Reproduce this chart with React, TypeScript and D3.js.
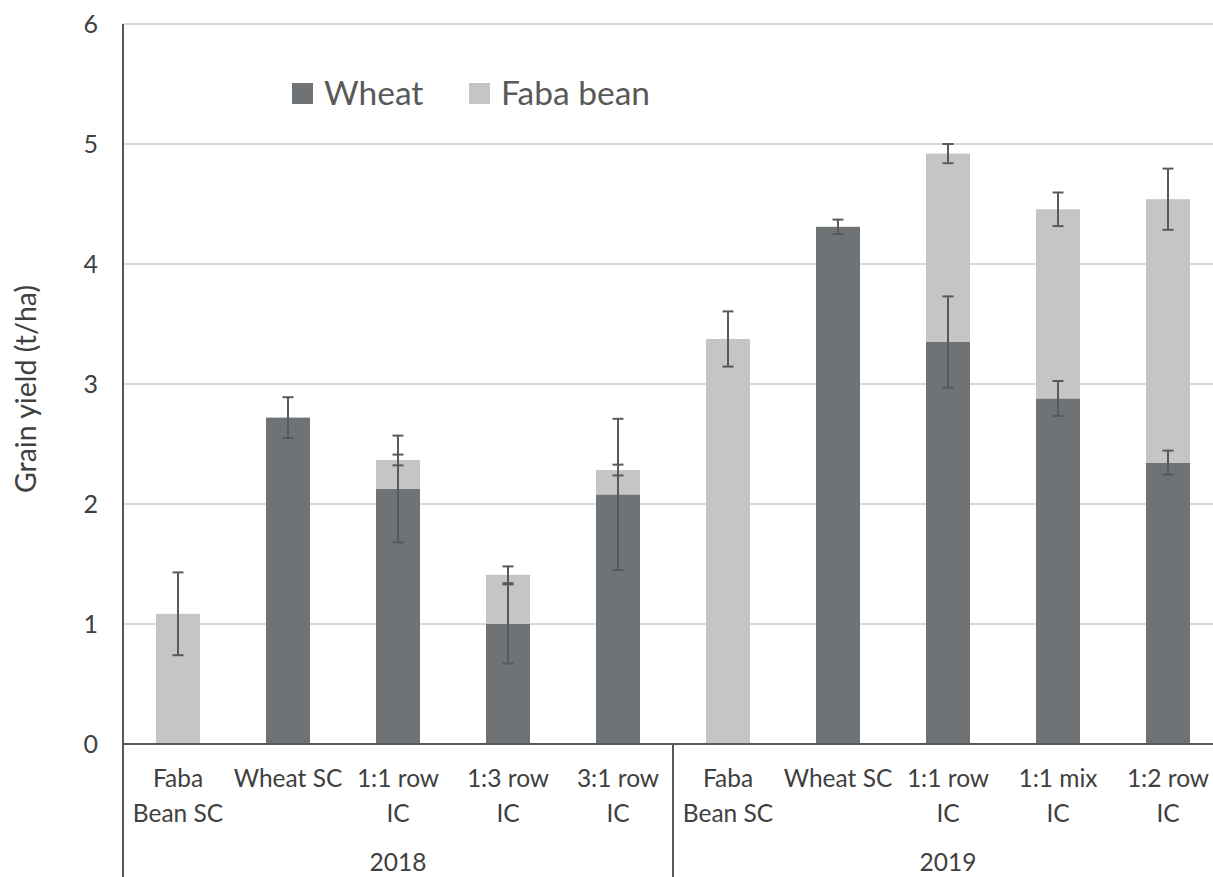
import React from 'react';
import * as d3 from 'd3';

const labels = [
  ['Faba', 'Bean SC'],
  ['Wheat SC'],
  ['1:1 row', 'IC'],
  ['1:3 row', 'IC'],
  ['3:1 row', 'IC'],
  ['Faba', 'Bean SC'],
  ['Wheat SC'],
  ['1:1 row', 'IC'],
  ['1:1 mix', 'IC'],
  ['1:2 row', 'IC'],
];
const years = ['2018', '2018', '2018', '2018', '2018', '2019', '2019', '2019', '2019', '2019'];
const wheat = [0, 2.72, 2.125, 1.0, 2.08, 0, 4.31, 3.35, 2.88, 2.345];
const wheatErr = [null, 0.17, 0.445, 0.33, 0.63, null, 0.06, 0.38, 0.145, 0.1];
const faba = [1.085, 0, 0.242, 0.41, 0.203, 3.375, 0, 1.57, 1.576, 2.195];
const fabaErr = [0.345, null, 0.045, 0.07, 0.045, 0.23, null, 0.08, 0.14, 0.255];
const yTicks = [0, 1, 2, 3, 4, 5, 6];
const seriesNames = ['Wheat', 'Faba bean'];

const WHEAT = '#707375';
const FABA = '#c5c5c5';
const AXIS = '#595959';
const TEXT = '#404040';
const FONT = 'Lato, "Open Sans", sans-serif';

const App = () => {
  const ref = React.useRef(null);

  React.useEffect(() => {
    const svg = d3.select(ref.current);
    svg.selectAll('*').remove();

    const left = 123;
    const x = d3
      .scaleBand()
      .domain(d3.range(labels.length).map(String))
      .range([left, left + 1100])
      .paddingInner(0.6)
      .paddingOuter(0.3);
    const y = d3.scaleLinear().domain([0, 6]).range([744, 24]);

    // gridlines
    svg.append('g')
      .selectAll('line')
      .data(yTicks.filter((t) => t > 0))
      .join('line')
      .attr('x1', left)
      .attr('x2', 1213)
      .attr('y1', (d) => y(d))
      .attr('y2', (d) => y(d))
      .attr('stroke', '#d9d9d9')
      .attr('stroke-width', 2);

    const idx = d3.range(labels.length);

    // bars
    svg.append('g')
      .selectAll('rect')
      .data(idx.filter((i) => wheat[i] > 0))
      .join('rect')
      .attr('x', (i) => x(String(i)))
      .attr('width', x.bandwidth())
      .attr('y', (i) => y(wheat[i]))
      .attr('height', (i) => y(0) - y(wheat[i]))
      .attr('fill', WHEAT);

    svg.append('g')
      .selectAll('rect')
      .data(idx.filter((i) => faba[i] > 0))
      .join('rect')
      .attr('x', (i) => x(String(i)))
      .attr('width', x.bandwidth())
      .attr('y', (i) => y(wheat[i] + faba[i]))
      .attr('height', (i) => y(wheat[i]) - y(wheat[i] + faba[i]))
      .attr('fill', FABA);

    // error bars
    const errs = [];
    idx.forEach((i) => {
      if (wheatErr[i] != null) errs.push({ i, v: wheat[i], e: wheatErr[i] });
      if (fabaErr[i] != null) errs.push({ i, v: wheat[i] + faba[i], e: fabaErr[i] });
    });
    const cx = (i) => x(String(i)) + x.bandwidth() / 2;
    const eg = svg.append('g').attr('stroke', AXIS).attr('stroke-width', 2);
    errs.forEach((d) => {
      const c = cx(d.i);
      eg.append('line').attr('x1', c).attr('x2', c).attr('y1', y(d.v + d.e)).attr('y2', y(d.v - d.e));
      [d.v + d.e, d.v - d.e].forEach((v) => {
        eg.append('line').attr('x1', c - 5.5).attr('x2', c + 5.5).attr('y1', y(v)).attr('y2', y(v));
      });
    });

    // axes
    svg.append('line')
      .attr('x1', left).attr('x2', left).attr('y1', y(6)).attr('y2', 877)
      .attr('stroke', AXIS).attr('stroke-width', 2);
    svg.append('line')
      .attr('x1', left).attr('x2', 1213).attr('y1', y(0)).attr('y2', y(0))
      .attr('stroke', AXIS).attr('stroke-width', 2);
    const divX = (x(String(4)) + x(String(5)) + x.bandwidth()) / 2;
    svg.append('line')
      .attr('x1', divX).attr('x2', divX).attr('y1', y(0)).attr('y2', 877)
      .attr('stroke', AXIS).attr('stroke-width', 2);

    // y tick labels
    svg.append('g')
      .selectAll('text')
      .data(yTicks)
      .join('text')
      .attr('x', 98)
      .attr('y', (d) => y(d))
      .attr('dy', '0.35em')
      .attr('text-anchor', 'end')
      .attr('font-family', FONT)
      .attr('font-size', 25)
      .attr('fill', TEXT)
      .text((d) => d);

    // y title
    svg.append('text')
      .attr('transform', `translate(36,${(y(0) + y(6)) / 2 + 5}) rotate(-90)`)
      .attr('text-anchor', 'middle')
      .attr('font-family', FONT)
      .attr('font-size', 28.5)
      .attr('fill', TEXT)
      .text('Grain yield (t/ha)');

    // category labels
    const cat = svg.append('g')
      .attr('font-family', FONT)
      .attr('font-size', 24.5)
      .attr('fill', TEXT)
      .attr('text-anchor', 'middle');
    idx.forEach((i) => {
      labels[i].forEach((line, k) => {
        cat.append('text')
          .attr('x', cx(i))
          .attr('y', 787 + k * 35)
          .text(line);
      });
    });

    // year labels
    const groups = d3.groups(idx, (i) => years[i]);
    groups.forEach(([yr, members]) => {
      const x0 = x(String(members[0])) - x.step() * 0.3;
      const x1 = x(String(members[members.length - 1])) + x.bandwidth() + x.step() * 0.3;
      cat.append('text')
        .attr('x', (x0 + x1) / 2)
        .attr('y', 871)
        .text(yr);
    });

    // legend
    const legendX = [292, 469];
    const colors = [WHEAT, FABA];
    const lg = svg.append('g');
    seriesNames.forEach((name, k) => {
      lg.append('rect')
        .attr('x', legendX[k])
        .attr('y', 83)
        .attr('width', 21)
        .attr('height', 21)
        .attr('fill', colors[k]);
      lg.append('text')
        .attr('x', legendX[k] + 32)
        .attr('y', 105)
        .attr('font-family', FONT)
        .attr('font-size', 33.5)
        .attr('fill', '#595959')
        .text(name);
    });
  }, []);

  return (
    <svg
      ref={ref}
      width={1213}
      height={877}
      style={{ position: 'absolute', left: 0, top: 0, background: '#fff' }}
    />
  );
};

export default App;
